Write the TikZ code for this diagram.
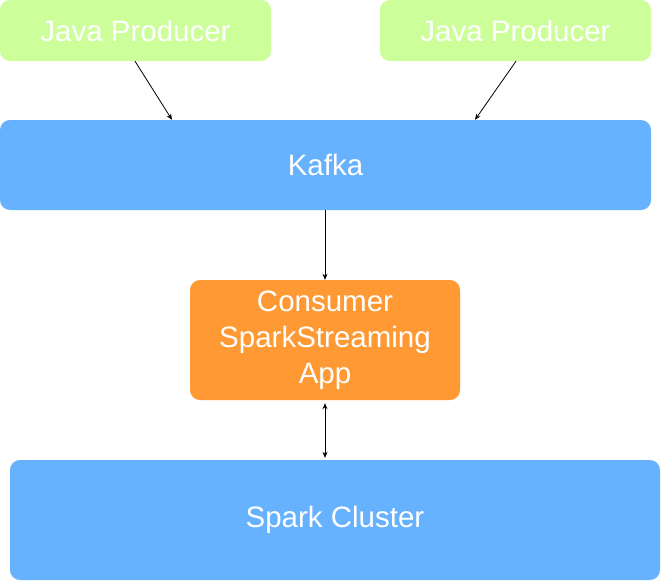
\documentclass[tikz,border=0pt]{standalone}
\usepackage{fontspec}
\setmainfont{Liberation Sans}
\usetikzlibrary{arrows.meta}
\definecolor{prodgreen}{HTML}{CCFF99}
\definecolor{kblue}{HTML}{66B2FF}
\definecolor{corange}{HTML}{FF9933}
\begin{document}
\begin{tikzpicture}[x=1pt,y=-1pt,
  box/.style={draw=none,rounded corners=10pt,text=white,inner sep=0pt,align=center,
    font={\fontsize{29.5}{36}\selectfont}},
  conn/.style={line width=0.8pt,-{Stealth[length=6pt,width=5pt]}},
  biconn/.style={line width=0.8pt,{Stealth[length=6pt,width=5pt]}-{Stealth[length=6pt,width=5pt]}}]
\useasboundingbox[fill=white] (0,0) rectangle (661,581);
\node[box,fill=prodgreen,minimum width=271pt,minimum height=61pt] (p1) at (135.5,30.5) {Java Producer};
\node[box,fill=prodgreen,minimum width=271pt,minimum height=61pt] (p2) at (515.5,30.5) {Java Producer};
\node[box,fill=kblue,minimum width=651pt,minimum height=90pt] (kafka) at (325.5,165) {Kafka};
\node[box,fill=corange,minimum width=270pt,minimum height=120pt] (cons) at (325,340) {Consumer\\SparkStreaming\\App};
\node[box,fill=kblue,minimum width=650pt,minimum height=120pt] (spark) at (335,520) {Spark Cluster};
\draw[conn] ([xshift=-0.5pt]p1.south) -- ([xshift=-153.5pt]kafka.north);
\draw[conn] ([xshift=0.5pt]p2.south) -- ([xshift=149.5pt]kafka.north);
\draw[conn] (kafka.south -| cons.north) -- (cons.north);
\draw[biconn] ([yshift=-3pt]cons.south) -- ([yshift=2pt]cons.south |- spark.north);
\end{tikzpicture}
\end{document}
